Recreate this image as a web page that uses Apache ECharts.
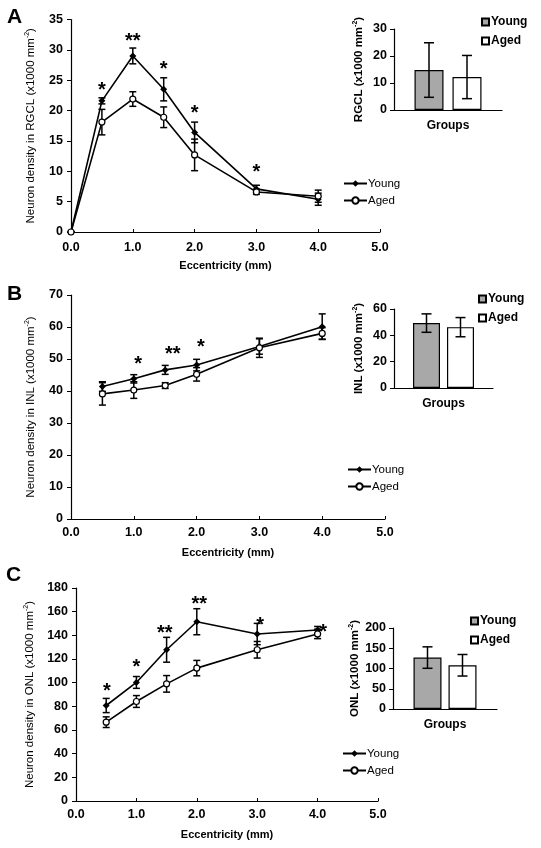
<!DOCTYPE html>
<html>
<head>
<meta charset="utf-8">
<script src="https://cdn.jsdelivr.net/npm/echarts@6/dist/echarts.min.js"></script>
<style>
html,body{margin:0;padding:0;background:#fff;}
#chart{width:541px;height:848px;}
</style>
</head>
<body>
<div id="chart"></div>
<script>
// ---------------- DATA ----------------
const eccA = [0, 0.5, 1.0, 1.5, 2.0, 3.0, 4.0];
const youngA = [0, 21.6, 29.0, 23.5, 16.4, 7.1, 5.4];
const youngAErr = [0, 0.5, 1.3, 1.9, 1.7, 0.6, 1.0];
const agedA = [0, 18.1, 21.9, 18.9, 12.7, 6.6, 5.9];
const agedAErr = [0, 2.1, 1.2, 1.7, 2.6, 0.4, 1.0];
const starsA = [[0.5, 23.9, '*'], [1.0, 32.1, '**'], [1.5, 27.5, '*'], [2.0, 20.1, '*'], [3.0, 10.5, '*']];

const eccBC = [0.5, 1.0, 1.5, 2.0, 3.0, 4.0];
const youngB = [41.4, 43.8, 46.6, 48.1, 53.9, 60.1];
const youngBErr = [1.5, 1.3, 1.4, 1.8, 2.4, 4.0];
const agedB = [39.1, 40.3, 41.7, 45.2, 53.5, 58.0];
const agedBErr = [3.5, 2.6, 0.9, 2.1, 3.0, 1.8];
const starsB = [[1.07, 49.5, '*'], [1.62, 52.6, '**'], [2.07, 54.9, '*']];

const youngC = [80.7, 100.2, 127.8, 151.5, 141.1, 144.5];
const youngCErr = [6.0, 5.0, 10.5, 11.0, 9.0, 3.0];
const agedC = [66.6, 84.1, 99.0, 112.3, 127.8, 141.2];
const agedCErr = [4.5, 5.0, 7.0, 6.5, 7.0, 4.0];
const starsC = [[0.51, 95.9, '*'], [1.0, 115.9, '*'], [1.47, 145.3, '**'], [2.04, 169.2, '**'], [3.05, 151.7, '*'], [4.09, 146.1, '*']];

const groupCats = ['Groups'];
const insetA = {young: 14.8, youngErr: 10.1, aged: 12.2, agedErr: 8.0};
const insetB = {young: 49.3, youngErr: 7.0, aged: 46.2, agedErr: 7.3};
const insetC = {young: 127, youngErr: 26.5, aged: 108, agedErr: 26.6};

const panelLetters = ['A', 'B', 'C'];
const layerNames = ['RGCL', 'INL', 'ONL'];
const seriesNames = ['Young', 'Aged'];

// ---------------- STYLE / LAYOUT ----------------
const FONT = 'Liberation Sans, Arial, Helvetica, sans-serif';
const BLACK = '#000';
const GRAY = '#a8a8a8';

const mainGrids = [
  {left: 71, top: 19.5, width: 309, height: 212.5},
  {left: 71, top: 295, width: 314, height: 224},
  {left: 76, top: 588, width: 302, height: 213}
];
const insetGrids = [
  {left: 394, top: 29, width: 108, height: 81},
  {left: 394, top: 309, width: 99, height: 79},
  {left: 393, top: 628, width: 104, height: 81}
];
const mainY = [{max: 35, interval: 5}, {max: 70, interval: 10}, {max: 180, interval: 20}];
const insetY = [{max: 30, interval: 10}, {max: 60, interval: 20}, {max: 200, interval: 50}];
const xLabelMargin = [9, 7, 7];
const barW = [29, 27, 28];
const barGapPx = [9, 7, 7];
const lineLegendPos = [{left: 343, top: 177}, {left: 347, top: 463}, {left: 342, top: 747}];
const barLegendPos = [{left: 481, top: 15}, {left: 478, top: 292}, {left: 470, top: 614}];
const letterPos = [{left: 7, top: 7}, {left: 7, top: 284}, {left: 6, top: 565}];

function supName(label, size, weight) {
  return {
    text: '{a|' + label + ' (x1000 mm}{s|-2}{a|)}',
    style: {
      fontFamily: FONT, fontSize: size, fontWeight: weight, color: BLACK,
      rich: {
        a: {fontFamily: FONT, fontSize: size, fontWeight: weight, color: BLACK, lineHeight: size + 3},
        s: {fontFamily: FONT, fontSize: Math.round(size * 0.65), fontWeight: weight, color: BLACK, verticalAlign: 'top', lineHeight: size + 3, padding: [0, 0, 5, 0]}
      }
    }
  };
}

function errRender(offsetPx, cap) {
  return function (params, api) {
    const x = api.value(0);
    const lo = api.value(1);
    const hi = api.value(2);
    const pHi = api.coord([x, hi]);
    const pLo = api.coord([x, lo]);
    const cx = pHi[0] + offsetPx;
    const st = {stroke: BLACK, lineWidth: 1.5};
    return {
      type: 'group',
      children: [
        {type: 'line', shape: {x1: cx, y1: pHi[1], x2: cx, y2: pLo[1]}, style: st},
        {type: 'line', shape: {x1: cx - cap, y1: pHi[1], x2: cx + cap, y2: pHi[1]}, style: st},
        {type: 'line', shape: {x1: cx - cap, y1: pLo[1], x2: cx + cap, y2: pLo[1]}, style: st}
      ]
    };
  };
}

const starTexts = {};
function starRender(params, api) {
  const p = api.coord([api.value(0), api.value(1)]);
  return {
    type: 'text', x: p[0], y: p[1] + 4,
    style: {text: starTexts[params.seriesIndex][params.dataIndex], fill: BLACK, font: 'bold 20px ' + FONT, align: 'center', verticalAlign: 'middle'}
  };
}

const panelData = [
  {ecc: eccA, young: youngA, youngErr: youngAErr, aged: agedA, agedErr: agedAErr, stars: starsA, inset: insetA},
  {ecc: eccBC, young: youngB, youngErr: youngBErr, aged: agedB, agedErr: agedBErr, stars: starsB, inset: insetB},
  {ecc: eccBC, young: youngC, youngErr: youngCErr, aged: agedC, agedErr: agedCErr, stars: starsC, inset: insetC}
];

const option = {
  animation: false,
  backgroundColor: '#fff',
  title: [], grid: [], xAxis: [], yAxis: [], legend: [], series: []
};

panelData.forEach((pd, k) => {
  const gMain = k * 2, gIn = k * 2 + 1;
  option.title.push({text: panelLetters[k], left: letterPos[k].left, top: letterPos[k].top, padding: 0,
    textStyle: {fontFamily: FONT, fontSize: 21, fontWeight: 'bold', color: BLACK}});
  option.grid.push(Object.assign({containLabel: false}, mainGrids[k]));
  option.grid.push(Object.assign({containLabel: false}, insetGrids[k]));

  // main axes
  option.xAxis.push({
    type: 'value', gridIndex: gMain, min: 0, max: 5, interval: 1,
    name: 'Eccentricity (mm)', nameLocation: 'middle', nameGap: 28,
    nameTextStyle: {fontFamily: FONT, fontSize: 11, fontWeight: 'bold', color: BLACK},
    axisLine: {lineStyle: {color: BLACK, width: 1.2}},
    axisTick: {inside: true, length: 3, lineStyle: {color: BLACK}},
    axisLabel: {fontFamily: FONT, fontSize: 12.5, fontWeight: 'bold', color: BLACK, margin: xLabelMargin[k], formatter: v => v.toFixed(1)},
    splitLine: {show: false}
  });
  const yn = supName('Neuron density in ' + layerNames[k], 11.5, 'normal');
  option.yAxis.push({
    type: 'value', gridIndex: gMain, min: 0, max: mainY[k].max, interval: mainY[k].interval,
    name: yn.text, nameLocation: 'middle', nameGap: 33, nameTextStyle: yn.style,
    axisLine: {show: true, lineStyle: {color: BLACK, width: 1.2}},
    axisTick: {show: true, inside: false, length: 4, lineStyle: {color: BLACK}},
    axisLabel: {fontFamily: FONT, fontSize: 12.5, fontWeight: 'bold', color: BLACK, margin: 8},
    splitLine: {show: false}
  });
  // inset axes
  option.xAxis.push({
    type: 'category', gridIndex: gIn, data: groupCats, boundaryGap: true,
    axisLine: {lineStyle: {color: BLACK, width: 1.2}},
    axisTick: {inside: true, length: 3, alignWithLabel: false, lineStyle: {color: BLACK}},
    axisLabel: {fontFamily: FONT, fontSize: 12, fontWeight: 'bold', color: BLACK, margin: 10}
  });
  const yi = supName(layerNames[k], 11.5, 'bold');
  option.yAxis.push({
    type: 'value', gridIndex: gIn, min: 0, max: insetY[k].max, interval: insetY[k].interval,
    name: yi.text, nameLocation: 'middle', nameGap: 28, nameTextStyle: yi.style,
    axisLine: {show: true, lineStyle: {color: BLACK, width: 1.2}},
    axisTick: {show: true, inside: false, length: 4, lineStyle: {color: BLACK}},
    axisLabel: {fontFamily: FONT, fontSize: 12.5, fontWeight: 'bold', color: BLACK, margin: 7},
    splitLine: {show: false}
  });

  const suf = ' ' + panelLetters[k];
  const nYoungL = seriesNames[0] + suf + 'L', nAgedL = seriesNames[1] + suf + 'L';
  const nYoungB = seriesNames[0] + suf + 'B', nAgedB = seriesNames[1] + suf + 'B';

  // lines
  option.series.push({
    name: nYoungL, type: 'line', xAxisIndex: gMain, yAxisIndex: gMain, z: 3,
    data: pd.ecc.map((x, i) => [x, pd.young[i]]),
    symbol: 'diamond', symbolSize: 7,
    itemStyle: {color: BLACK},
    lineStyle: {color: BLACK, width: 1.6}
  });
  option.series.push({
    name: nAgedL, type: 'line', xAxisIndex: gMain, yAxisIndex: gMain, z: 3,
    data: pd.ecc.map((x, i) => [x, pd.aged[i]]),
    symbol: 'circle', symbolSize: 6,
    itemStyle: {color: '#fff', borderColor: BLACK, borderWidth: 1.2},
    lineStyle: {color: BLACK, width: 1.6}
  });
  // error bars main
  option.series.push({
    type: 'custom', xAxisIndex: gMain, yAxisIndex: gMain, z: 2,
    renderItem: errRender(0, 3.5),
    encode: {x: 0, y: [1, 2]},
    data: pd.ecc.map((x, i) => [x, pd.young[i] - pd.youngErr[i], pd.young[i] + pd.youngErr[i]])
  });
  option.series.push({
    type: 'custom', xAxisIndex: gMain, yAxisIndex: gMain, z: 2,
    renderItem: errRender(0, 3.5),
    encode: {x: 0, y: [1, 2]},
    data: pd.ecc.map((x, i) => [x, pd.aged[i] - pd.agedErr[i], pd.aged[i] + pd.agedErr[i]])
  });
  // stars
  const starIdx = option.series.length;
  starTexts[starIdx] = pd.stars.map(s => s[2]);
  option.series.push({
    type: 'custom', xAxisIndex: gMain, yAxisIndex: gMain, z: 4,
    renderItem: starRender, encode: {x: 0, y: 1},
    data: pd.stars.map(s => [s[0], s[1]])
  });
  // bars
  const bw = barW[k], gapPct = (barGapPx[k] / bw * 100).toFixed(1) + '%';
  option.series.push({
    name: nYoungB, type: 'bar', xAxisIndex: gIn, yAxisIndex: gIn,
    data: [pd.inset.young], barWidth: bw, barGap: gapPct,
    itemStyle: {color: GRAY, borderColor: BLACK, borderWidth: 1.2}
  });
  option.series.push({
    name: nAgedB, type: 'bar', xAxisIndex: gIn, yAxisIndex: gIn,
    data: [pd.inset.aged], barWidth: bw, barGap: gapPct,
    itemStyle: {color: '#fff', borderColor: BLACK, borderWidth: 1.2}
  });
  const off = (bw + barGapPx[k]) / 2;
  option.series.push({
    type: 'custom', xAxisIndex: gIn, yAxisIndex: gIn, z: 4,
    renderItem: errRender(-off, 5), encode: {x: 0, y: [1, 2]},
    data: [[0, pd.inset.young - pd.inset.youngErr, pd.inset.young + pd.inset.youngErr]]
  });
  option.series.push({
    type: 'custom', xAxisIndex: gIn, yAxisIndex: gIn, z: 4,
    renderItem: errRender(off, 5), encode: {x: 0, y: [1, 2]},
    data: [[0, pd.inset.aged - pd.inset.agedErr, pd.inset.aged + pd.inset.agedErr]]
  });

  // legends
  option.legend.push({
    data: [nYoungL, nAgedL], orient: 'vertical', left: lineLegendPos[k].left, top: lineLegendPos[k].top,
    itemWidth: 23, itemHeight: 8, itemGap: 4, padding: 0, selectedMode: false,
    formatter: n => n.split(' ')[0],
    textStyle: {fontFamily: FONT, fontSize: 11.5, color: BLACK, lineHeight: 13, padding: [0, 0, 0, -4]}
  });
  option.legend.push({
    data: [nYoungB, nAgedB], orient: 'vertical', left: barLegendPos[k].left, top: barLegendPos[k].top,
    itemWidth: 7, itemHeight: 7, itemGap: 5, padding: 0, selectedMode: false, icon: 'rect',
    formatter: n => n.split(' ')[0],
    textStyle: {fontFamily: FONT, fontSize: 12, fontWeight: 'bold', color: BLACK, lineHeight: 14, padding: [0, 0, 0, -3]}
  });
});

const chart = echarts.init(document.getElementById('chart'), null, {renderer: 'canvas'});
chart.setOption(option);
</script>
</body>
</html>
